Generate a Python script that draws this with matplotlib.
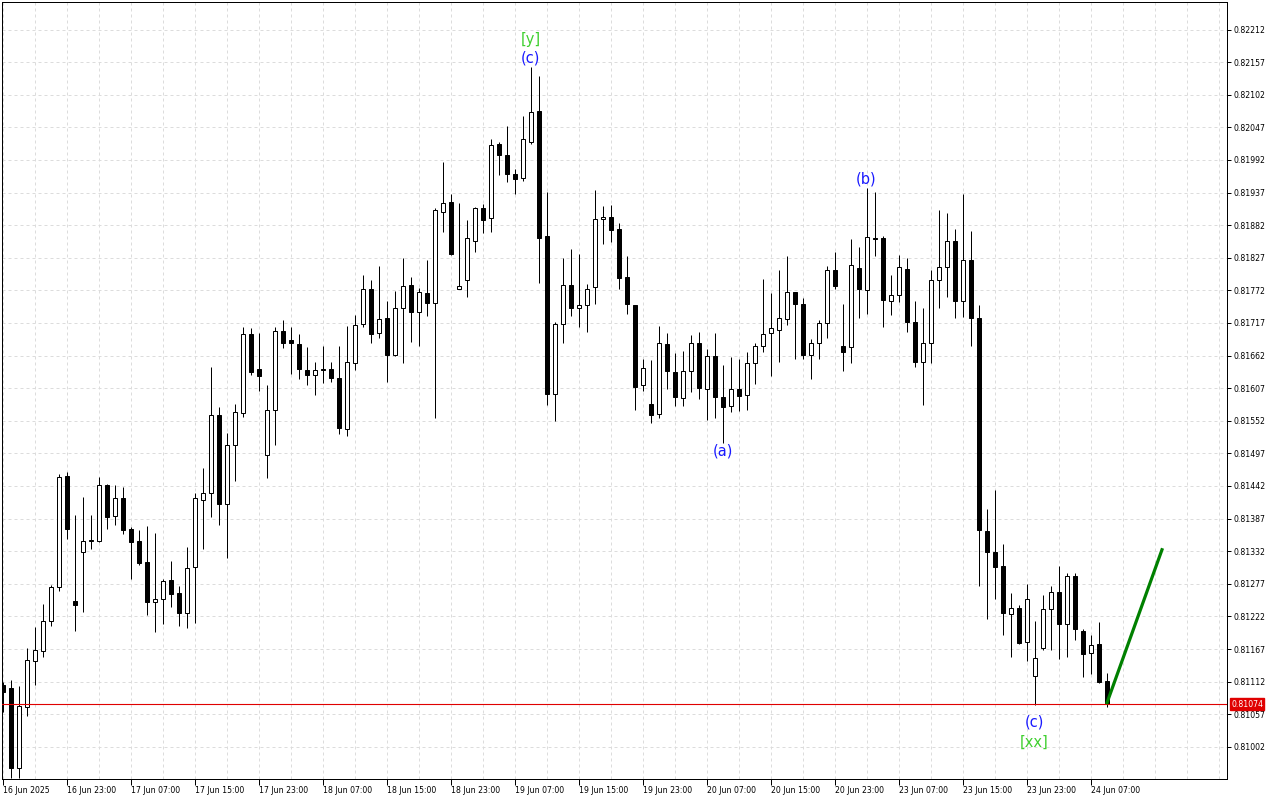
#!/usr/bin/env python3
"""
Hourly candlestick chart with wave labels, MT-style.
"""

import matplotlib
matplotlib.use("Agg")
import matplotlib.pyplot as plt
import numpy as np


# hourly bars, first entry is the partly hidden bar at 16 Jun 15:00
opens = [
    0.81106,
    0.81102, 0.80966, 0.81070, 0.81146, 0.81164, 0.81215, 0.81272, 0.81459, 0.81248, 0.81330,
    0.81350, 0.81349, 0.81443, 0.81391, 0.81421, 0.81369, 0.81349, 0.81313, 0.81247, 0.81251,
    0.81283, 0.81261, 0.81227, 0.81305, 0.81418, 0.81430, 0.81561, 0.81411, 0.81511, 0.81565,
    0.81698, 0.81639, 0.81495, 0.81571, 0.81703, 0.81688, 0.81681, 0.81637, 0.81629, 0.81639,
    0.81639, 0.81625, 0.81538, 0.81649, 0.81715, 0.81774, 0.81700, 0.81725, 0.81663, 0.81742,
    0.81781, 0.81736, 0.81767, 0.81751, 0.81904, 0.81921, 0.81775, 0.81789, 0.81855, 0.81911,
    0.81894, 0.82019, 0.82000, 0.81968, 0.81961, 0.82023, 0.82075, 0.81863, 0.81598, 0.81716,
    0.81781, 0.81743, 0.81747, 0.81777, 0.81892, 0.81895, 0.81875, 0.81794, 0.81747, 0.81612,
    0.81580, 0.81563, 0.81681, 0.81634, 0.81590, 0.81636, 0.81684, 0.81605, 0.81661, 0.81592,
    0.81577, 0.81605, 0.81595, 0.81649, 0.81679, 0.81700, 0.81705, 0.81723, 0.81769, 0.81749,
    0.81663, 0.81683, 0.81717, 0.81806, 0.81678, 0.81676, 0.81809, 0.81772, 0.81860, 0.81860,
    0.81754, 0.81765, 0.81808, 0.81718, 0.81651, 0.81683, 0.81789, 0.81811, 0.81855, 0.81754,
    0.81823, 0.81725, 0.81366, 0.81330, 0.81307, 0.81226, 0.81236, 0.81178, 0.81121, 0.81168,
    0.81234, 0.81264, 0.81209, 0.81291, 0.81197, 0.81160, 0.81175, 0.81113,
]
highs = [
    0.81112,
    0.81115, 0.81105, 0.81168, 0.81204, 0.81243, 0.81275, 0.81462, 0.81466, 0.81393, 0.81423,
    0.81393, 0.81458, 0.81445, 0.81444, 0.81440, 0.81372, 0.81368, 0.81374, 0.81362, 0.81285,
    0.81316, 0.81273, 0.81339, 0.81430, 0.81472, 0.81642, 0.81575, 0.81531, 0.81580, 0.81710,
    0.81708, 0.81700, 0.81612, 0.81710, 0.81722, 0.81711, 0.81698, 0.81676, 0.81651, 0.81678,
    0.81652, 0.81678, 0.81712, 0.81730, 0.81798, 0.81790, 0.81813, 0.81754, 0.81771, 0.81827,
    0.81795, 0.81776, 0.81823, 0.81911, 0.81988, 0.81935, 0.81919, 0.81890, 0.81912, 0.81918,
    0.82027, 0.82022, 0.82049, 0.81976, 0.82066, 0.82149, 0.82134, 0.81938, 0.81718, 0.81827,
    0.81842, 0.81833, 0.81782, 0.81941, 0.81914, 0.81916, 0.81885, 0.81830, 0.81748, 0.81657,
    0.81655, 0.81712, 0.81700, 0.81666, 0.81669, 0.81696, 0.81701, 0.81673, 0.81700, 0.81646,
    0.81659, 0.81656, 0.81668, 0.81683, 0.81791, 0.81767, 0.81807, 0.81830, 0.81770, 0.81759,
    0.81690, 0.81722, 0.81813, 0.81836, 0.81749, 0.81858, 0.81845, 0.81944, 0.81938, 0.81863,
    0.81798, 0.81831, 0.81826, 0.81754, 0.81743, 0.81806, 0.81907, 0.81902, 0.81875, 0.81934,
    0.81872, 0.81747, 0.81403, 0.81435, 0.81344, 0.81261, 0.81242, 0.81276, 0.81215, 0.81258,
    0.81273, 0.81307, 0.81296, 0.81296, 0.81200, 0.81190, 0.81212, 0.81126,
]
lows = [
    0.81060,
    0.80950, 0.80950, 0.81054, 0.81106, 0.81154, 0.81205, 0.81265, 0.81353, 0.81198, 0.81229,
    0.81335, 0.81347, 0.81370, 0.81377, 0.81361, 0.81285, 0.81309, 0.81224, 0.81196, 0.81209,
    0.81238, 0.81205, 0.81202, 0.81211, 0.81335, 0.81389, 0.81377, 0.81320, 0.81450, 0.81558,
    0.81630, 0.81603, 0.81456, 0.81512, 0.81674, 0.81631, 0.81622, 0.81613, 0.81596, 0.81616,
    0.81617, 0.81529, 0.81526, 0.81638, 0.81711, 0.81684, 0.81692, 0.81618, 0.81661, 0.81649,
    0.81685, 0.81679, 0.81728, 0.81557, 0.81871, 0.81831, 0.81774, 0.81761, 0.81836, 0.81869,
    0.81871, 0.81967, 0.81954, 0.81935, 0.81957, 0.82019, 0.81785, 0.81578, 0.81552, 0.81684,
    0.81729, 0.81711, 0.81702, 0.81749, 0.81850, 0.81853, 0.81774, 0.81732, 0.81570, 0.81603,
    0.81549, 0.81556, 0.81605, 0.81577, 0.81577, 0.81601, 0.81588, 0.81553, 0.81556, 0.81514,
    0.81566, 0.81568, 0.81570, 0.81614, 0.81668, 0.81627, 0.81652, 0.81714, 0.81656, 0.81656,
    0.81622, 0.81656, 0.81691, 0.81774, 0.81636, 0.81649, 0.81725, 0.81732, 0.81830, 0.81711,
    0.81731, 0.81753, 0.81702, 0.81643, 0.81579, 0.81649, 0.81743, 0.81760, 0.81725, 0.81727,
    0.81678, 0.81274, 0.81217, 0.81251, 0.81190, 0.81153, 0.81175, 0.81146, 0.81072, 0.81165,
    0.81165, 0.81150, 0.81153, 0.81183, 0.81119, 0.81125, 0.81110, 0.81069,
]
closes = [
    0.81095,
    0.80966, 0.81071, 0.81148, 0.81165, 0.81215, 0.81272, 0.81457, 0.81370, 0.81242, 0.81350,
    0.81351, 0.81443, 0.81390, 0.81422, 0.81367, 0.81348, 0.81312, 0.81246, 0.81251, 0.81281,
    0.81260, 0.81227, 0.81303, 0.81421, 0.81430, 0.81561, 0.81411, 0.81511, 0.81566, 0.81698,
    0.81635, 0.81628, 0.81571, 0.81704, 0.81683, 0.81683, 0.81639, 0.81629, 0.81637, 0.81637,
    0.81625, 0.81539, 0.81651, 0.81713, 0.81774, 0.81698, 0.81724, 0.81663, 0.81742, 0.81779,
    0.81736, 0.81769, 0.81751, 0.81907, 0.81919, 0.81834, 0.81779, 0.81860, 0.81911, 0.81891,
    0.82018, 0.82001, 0.81969, 0.81960, 0.82027, 0.82073, 0.81861, 0.81598, 0.81715, 0.81781,
    0.81743, 0.81747, 0.81775, 0.81892, 0.81895, 0.81874, 0.81793, 0.81749, 0.81609, 0.81641,
    0.81561, 0.81683, 0.81636, 0.81592, 0.81636, 0.81684, 0.81607, 0.81661, 0.81592, 0.81575,
    0.81605, 0.81593, 0.81649, 0.81678, 0.81698, 0.81708, 0.81725, 0.81769, 0.81749, 0.81663,
    0.81684, 0.81717, 0.81806, 0.81780, 0.81668, 0.81814, 0.81774, 0.81862, 0.81858, 0.81755,
    0.81765, 0.81811, 0.81718, 0.81652, 0.81683, 0.81789, 0.81811, 0.81855, 0.81754, 0.81823,
    0.81725, 0.81367, 0.81330, 0.81305, 0.81227, 0.81237, 0.81177, 0.81251, 0.81151, 0.81234,
    0.81264, 0.81209, 0.81290, 0.81200, 0.81159, 0.81174, 0.81112, 0.81074,
]

# right price scale
price_ticks = [
    0.82212, 0.82157, 0.82102, 0.82047, 0.81992, 0.81937, 0.81882, 0.81827,
    0.81772, 0.81717, 0.81662, 0.81607, 0.81552, 0.81497, 0.81442, 0.81387,
    0.81332, 0.81277, 0.81222, 0.81167, 0.81112, 0.81057, 0.81002,
]
# time axis labels, one every 8 bars starting at bar -1
time_labels = [
    "16 Jun 2025", "16 Jun 23:00", "17 Jun 07:00", "17 Jun 15:00", "17 Jun 23:00",
    "18 Jun 07:00", "18 Jun 15:00", "18 Jun 23:00", "19 Jun 07:00", "19 Jun 15:00",
    "19 Jun 23:00", "20 Jun 07:00", "20 Jun 15:00", "20 Jun 23:00", "23 Jun 07:00",
    "23 Jun 15:00", "23 Jun 23:00", "24 Jun 07:00",
]
time_label_bars = [-1, 7, 15, 23, 31, 39, 47, 55, 63, 71, 79, 87, 95, 103, 111, 119, 127, 135]

last_price = 0.81074
# projected move: from last bar to bar 144
proj_bars = [137, 144]
proj_prices = [0.81074, 0.81337]

# wave labels: text, bar, price, colour
wave_texts = ["[y]", "(c)", "(b)", "(a)", "(c)", "[xx]"]
wave_bars = [65, 65, 107, 89, 128, 128]
wave_prices = [0.82196, 0.82164, 0.81960, 0.81501, 0.81044, 0.81010]
wave_colors = ["#3fcf2f", "#1a1aff", "#1a1aff", "#1a1aff", "#1a1aff", "#3fcf2f"]


def main():
    o = np.array(opens)
    h = np.array(highs)
    l = np.array(lows)
    c = np.array(closes)
    x = np.arange(len(o)) - 1

    fig = plt.figure(figsize=(12.8, 8), dpi=100)
    ax = fig.add_axes([2 / 1280, 21 / 800, 1225 / 1280, 777 / 800])

    px = 0.72  # one pixel in points

    # grid
    for k in range(-1, 153, 4):
        ax.axvline(k, color="#dcdcdc", lw=px, ls=(0, (3, 3)), zorder=0)
    for p in price_ticks:
        ax.axhline(p, color="#dcdcdc", lw=px, ls=(0, (3, 3)), zorder=0)

    # candles
    ax.vlines(x, l, h, color="black", lw=px, zorder=2)
    up = c >= o
    bottoms = np.minimum(o, c)
    heights = np.abs(c - o)
    ax.bar(x[up], heights[up], bottom=bottoms[up], width=0.5,
           facecolor="white", edgecolor="black", linewidth=px, zorder=3)
    ax.bar(x[~up], heights[~up], bottom=bottoms[~up], width=0.5,
           facecolor="black", edgecolor="black", linewidth=px, zorder=3)

    ax.axhline(last_price, color="#e00000", lw=0.8, zorder=4)
    ax.plot(proj_bars, proj_prices, color="#008000", lw=2.3, zorder=5,
            solid_capstyle="butt")

    for t, b, p, col in zip(wave_texts, wave_bars, wave_prices, wave_colors):
        ax.text(b, p, t, color=col, fontsize=10.5, ha="center", va="center", zorder=6)

    ax.set_xlim(-1.0625, 152.06)
    ax.set_ylim(0.809477, 0.822585)

    ax.yaxis.tick_right()
    ax.set_yticks(price_ticks)
    ax.set_yticklabels([f"{p:.5f}" for p in price_ticks])
    ax.tick_params(axis="y", direction="out", length=3, width=px, labelsize=5.6, pad=2)

    ax.set_xticks(time_label_bars)
    ax.set_xticklabels(time_labels)
    for lbl in ax.get_xticklabels():
        lbl.set_ha("left")
    ax.tick_params(axis="x", direction="out", length=4, width=px, labelsize=5.6, pad=1)

    for s in ax.spines.values():
        s.set_linewidth(px)
        s.set_color("black")

    # current price tag on the price scale
    ax.annotate(f"{last_price:.5f}", xy=(1.0, last_price), xycoords=("axes fraction", "data"),
                xytext=(3, 0), textcoords="offset points", fontsize=5.6, color="white",
                va="center", ha="left",
                bbox=dict(boxstyle="square,pad=0.15", facecolor="#e00000", edgecolor="#e00000"))

    fig.savefig("out.png", dpi=100, facecolor="white")
    plt.close(fig)


if __name__ == "__main__":
    main()
